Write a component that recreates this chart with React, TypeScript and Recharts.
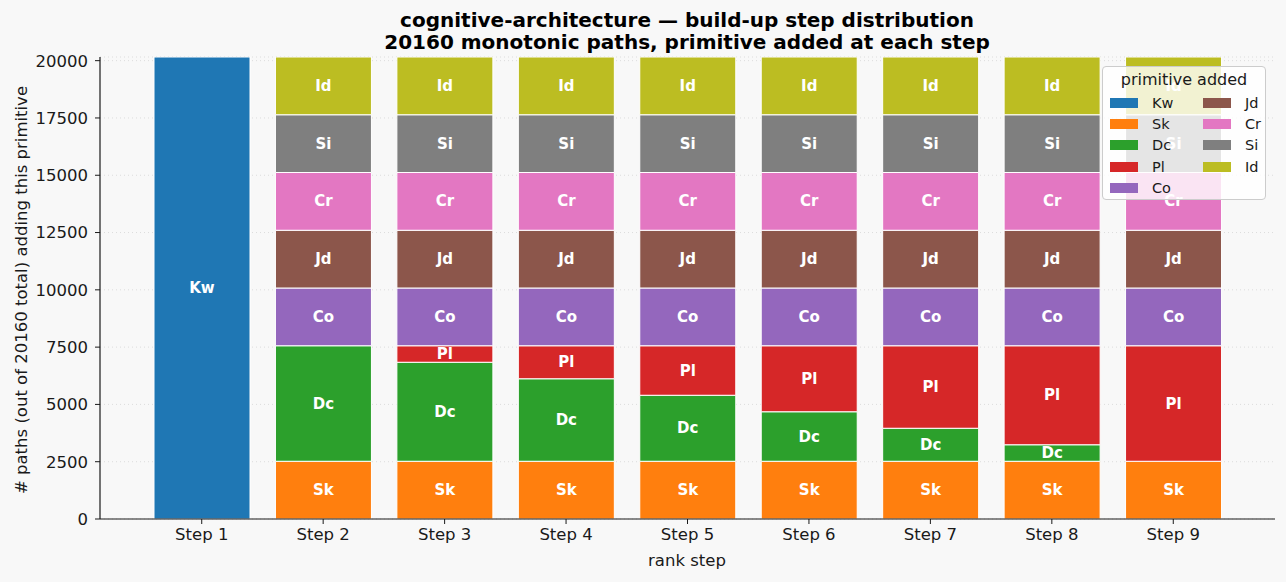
import React from 'react';
import { BarChart, Bar, XAxis, YAxis, CartesianGrid, LabelList } from 'recharts';

const steps = ['Step 1', 'Step 2', 'Step 3', 'Step 4', 'Step 5', 'Step 6', 'Step 7', 'Step 8', 'Step 9'];
const primitives = ['Kw', 'Sk', 'Dc', 'Pl', 'Co', 'Jd', 'Cr', 'Si', 'Id'];
const colors = ['#1f77b4', '#ff7f0e', '#2ca02c', '#d62728', '#9467bd', '#8c564b', '#e377c2', '#7f7f7f', '#bcbd22'];

const Kw = [20160, 0, 0, 0, 0, 0, 0, 0, 0];
const Sk = [0, 2520, 2520, 2520, 2520, 2520, 2520, 2520, 2520];
const Dc = [0, 5040, 4320, 3600, 2880, 2160, 1440, 720, 0];
const Pl = [0, 0, 720, 1440, 2160, 2880, 3600, 4320, 5040];
const Co = [0, 2520, 2520, 2520, 2520, 2520, 2520, 2520, 2520];
const Jd = [0, 2520, 2520, 2520, 2520, 2520, 2520, 2520, 2520];
const Cr = [0, 2520, 2520, 2520, 2520, 2520, 2520, 2520, 2520];
const Si = [0, 2520, 2520, 2520, 2520, 2520, 2520, 2520, 2520];
const Id = [0, 2520, 2520, 2520, 2520, 2520, 2520, 2520, 2520];

const yTicks = [0, 2500, 5000, 7500, 10000, 12500, 15000, 17500, 20000];
const TOTAL = 20160;

const seriesValues: Record<string, number[]> = { Kw, Sk, Dc, Pl, Co, Jd, Cr, Si, Id };

const data = steps.map((step, i) => {
  const row: Record<string, any> = { step };
  primitives.forEach((p) => {
    row[p] = seriesValues[p][i];
  });
  return row;
});

const FONT = 'DejaVu Sans, sans-serif';
const BG = '#f8f8f8';

const makeLabel = (name: string) => (props: any) => {
  const { x, y, width, height, value } = props;
  if (!value) return null;
  return (
    <text
      x={Number(x) + Number(width) / 2}
      y={Number(y) + Number(height) / 2}
      fill="#ffffff"
      fontWeight="bold"
      fontSize={15}
      fontFamily={FONT}
      textAnchor="middle"
      dominantBaseline="central"
    >
      {name}
    </text>
  );
};

const legendCol1 = ['Kw', 'Sk', 'Dc', 'Pl', 'Co'];
const legendCol2 = ['Jd', 'Cr', 'Si', 'Id'];

const LegendBox = () => (
  <div
    style={{
      position: 'absolute',
      left: 1102,
      top: 66,
      width: 164,
      height: 134,
      border: '1px solid #cccccc',
      borderRadius: 4,
      background: 'rgba(255,255,255,0.8)',
      fontFamily: FONT,
      color: '#1a1a1a',
      boxSizing: 'border-box',
    }}
  >
    <div style={{ position: 'absolute', left: 0, right: 0, top: 3, textAlign: 'center', fontSize: 16 }}>primitive added</div>
    {[legendCol1, legendCol2].map((col, ci) =>
      col.map((p, ri) => {
        const idx = primitives.indexOf(p);
        const cy = 36 + ri * 21.2;
        const sx = ci === 0 ? 7 : 100;
        const tx = ci === 0 ? 49 : 142;
        return (
          <React.Fragment key={p}>
            <div style={{ position: 'absolute', left: sx, top: cy - 5, width: 28, height: 10, background: colors[idx] }} />
            <div style={{ position: 'absolute', left: tx, top: cy - 9, fontSize: 14.5, lineHeight: '18px' }}>{p}</div>
          </React.Fragment>
        );
      })
    )}
  </div>
);

export default function App() {
  return (
    <div style={{ position: 'absolute', left: 0, top: 0, width: 1286, height: 582, background: BG, fontFamily: FONT }}>
      <BarChart
        width={1286}
        height={582}
        data={data}
        margin={{ top: 57, right: 11, bottom: 0, left: 0 }}
        barSize={96}
      >
        <CartesianGrid vertical={false} stroke="#dcdcdc" strokeDasharray="1 3" />
        <XAxis
          dataKey="step"
          height={63}
          padding={{ left: 41, right: 41 }}
          tick={{ fontSize: 16.5, fill: '#1a1a1a', fontFamily: FONT }}
          tickSize={5}
          tickMargin={4}
          axisLine={{ stroke: '#1a1a1a', strokeWidth: 1.2 }}
          tickLine={{ stroke: '#1a1a1a' }}
        />
        <YAxis
          width={100}
          domain={[0, TOTAL]}
          ticks={yTicks}
          interval={0}
          allowDataOverflow
          tick={{ fontSize: 16.5, fill: '#1a1a1a', fontFamily: FONT }}
          tickSize={5}
          tickMargin={7}
          axisLine={{ stroke: '#1a1a1a', strokeWidth: 1.2 }}
          tickLine={{ stroke: '#1a1a1a' }}
        />
        {primitives.map((p, i) => (
          <Bar
            key={p}
            dataKey={p}
            stackId="a"
            fill={colors[i]}
            stroke="#ffffff"
            strokeWidth={1}
            isAnimationActive={false}
          >
            <LabelList dataKey={p} content={makeLabel(p)} />
          </Bar>
        ))}
      </BarChart>
      <svg
        width={1286}
        height={582}
        style={{ position: 'absolute', left: 0, top: 0, pointerEvents: 'none' }}
        fontFamily={FONT}
      >
        <text x={687} y={27} textAnchor="middle" fontSize={20} fontWeight="bold" fill="#000">
          cognitive-architecture — build-up step distribution
        </text>
        <text x={687} y={49} textAnchor="middle" fontSize={20} fontWeight="bold" fill="#000">
          20160 monotonic paths, primitive added at each step
        </text>
        <text x={687} y={566} textAnchor="middle" fontSize={16.5} fill="#1a1a1a">
          rank step
        </text>
        <text
          x={21}
          y={290}
          textAnchor="middle"
          dominantBaseline="central"
          fontSize={16.5}
          fill="#1a1a1a"
          transform="rotate(-90 21 290)"
        >
          # paths (out of 20160 total) adding this primitive
        </text>
      </svg>
      <LegendBox />
    </div>
  );
}
